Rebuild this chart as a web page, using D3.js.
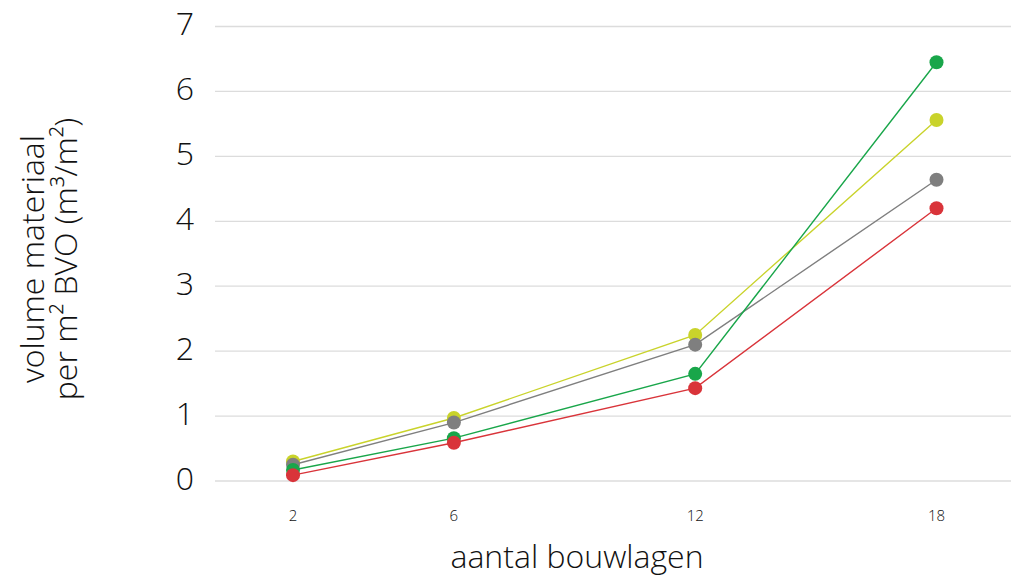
<!DOCTYPE html>
<html>
<head>
<meta charset="utf-8">
<script src="https://cdn.jsdelivr.net/npm/d3@7"></script>
<style>
  html, body { margin: 0; padding: 0; background: #fff; }
  svg { display: block; }
  text { font-family: "Open Sans", "Roboto", "Liberation Sans", sans-serif; fill: #111; }
</style>
</head>
<body>
<svg id="chart" width="1011" height="578"></svg>
<script>
const xValues = [2, 6, 12, 18];
const xTickLabels = ["2", "6", "12", "18"];
const yTicks = [0, 1, 2, 3, 4, 5, 6, 7];
const seriesNames = ["geel", "grijs", "groen", "rood"];
const seriesColors = ["#c9d32b", "#7f7f7f", "#19a64a", "#d9343a"];
const yellowValues = [0.30, 0.97, 2.25, 5.56];
const grayValues   = [0.25, 0.90, 2.10, 4.64];
const greenValues  = [0.17, 0.66, 1.65, 6.45];
const redValues    = [0.09, 0.59, 1.43, 4.20];
const seriesValues = [yellowValues, grayValues, greenValues, redValues];
const xTitle = "aantal bouwlagen";
const yTitleLine1 = "volume materiaal";
const yTitleLine2 = "per m² BVO (m³/m²)";

const svg = d3.select("#chart");
const gridLeft = 215, gridRight = 1011;

const x = d3.scaleLinear().domain([2, 18]).range([293, 936.5]);
const y = d3.scaleLinear().domain([0, 7]).range([481, 26.5]);

// gridlines
svg.append("g").selectAll("line").data(yTicks).join("line")
  .attr("x1", gridLeft).attr("x2", gridRight)
  .attr("y1", d => y(d)).attr("y2", d => y(d))
  .attr("stroke", "#dcdcdc").attr("stroke-width", 1.3);

// y tick labels
svg.append("g").selectAll("text").data(yTicks).join("text")
  .attr("x", 194).attr("y", d => y(d) + 8.5)
  .attr("text-anchor", "end")
  .attr("font-size", 32).attr("font-weight", 300)
  .text(d => d);

// x tick labels
svg.append("g").selectAll("text").data(xValues).join("text")
  .attr("x", d => x(d)).attr("y", 521)
  .attr("text-anchor", "middle")
  .attr("font-size", 15).attr("font-weight", 300)
  .text((d, i) => xTickLabels[i]);

// axis titles
svg.append("text").attr("x", 577).attr("y", 568)
  .attr("text-anchor", "middle").attr("font-size", 32).attr("font-weight", 300)
  .text(xTitle);

const yt = svg.append("g").attr("transform", "translate(0,259) rotate(-90)");
yt.append("text").attr("x", 0).attr("y", 44)
  .attr("text-anchor", "middle").attr("font-size", 32).attr("font-weight", 300)
  .text(yTitleLine1);
yt.append("text").attr("x", 0).attr("y", 77)
  .attr("text-anchor", "middle").attr("font-size", 32).attr("font-weight", 300)
  .text(yTitleLine2);

// series
const line = d3.line().x((d, i) => x(xValues[i])).y(d => y(d));
seriesValues.forEach((vals, s) => {
  const g = svg.append("g").attr("class", "series-" + seriesNames[s]);
  g.append("path").datum(vals)
    .attr("d", line).attr("fill", "none")
    .attr("stroke", seriesColors[s]).attr("stroke-width", 1.4);
  g.selectAll("circle").data(vals).join("circle")
    .attr("cx", (d, i) => x(xValues[i])).attr("cy", d => y(d))
    .attr("r", 7).attr("fill", seriesColors[s]);
});
</script>
</body>
</html>
